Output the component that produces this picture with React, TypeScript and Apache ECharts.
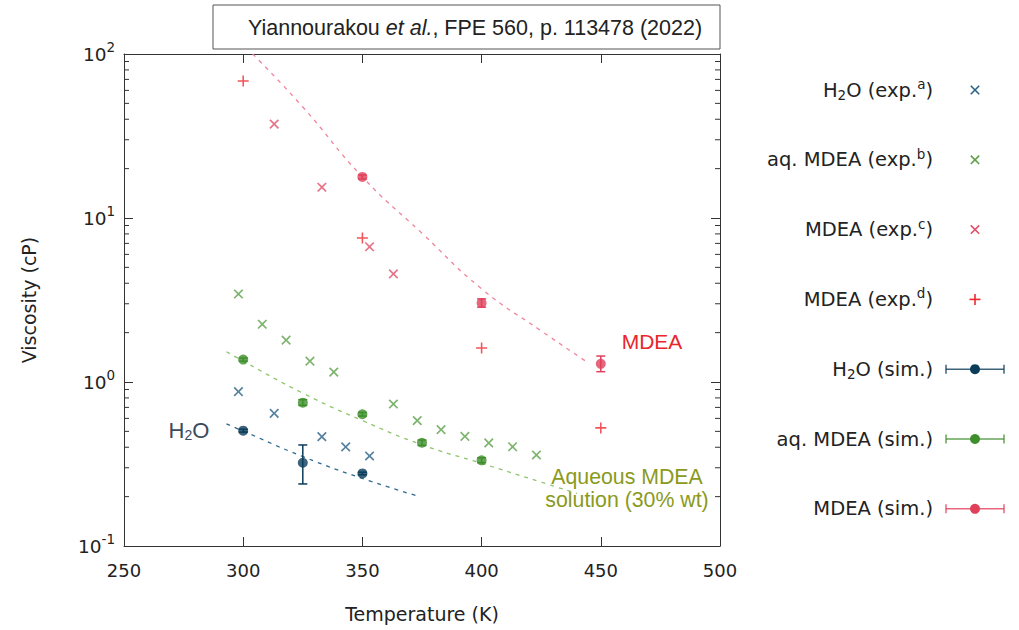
import { useEffect, useRef } from 'react';
import * as echarts from 'echarts';

// ---------- data ----------
const T_H2O_EXP = [298, 313, 333, 343, 353];
const V_H2O_EXP = [0.873, 0.644, 0.464, 0.402, 0.354];

const T_AQ_EXP = [298, 308, 318, 328, 338, 363, 373, 383, 393, 403, 413, 423];
const V_AQ_EXP = [3.44, 2.25, 1.8, 1.34, 1.15, 0.734, 0.582, 0.512, 0.466, 0.425, 0.403, 0.359];

const T_MDEA_EXP_C = [313, 333, 353, 363];
const V_MDEA_EXP_C = [37.4, 15.4, 6.68, 4.56];

const T_MDEA_EXP_D = [300, 350, 400, 450];
const V_MDEA_EXP_D = [68.4, 7.55, 1.61, 0.525];

const T_H2O_SIM = [300, 325, 350];
const V_H2O_SIM = [0.505, 0.322, 0.277];
const LO_H2O_SIM = [0.495, 0.239, 0.272];
const HI_H2O_SIM = [0.515, 0.413, 0.282];

const T_AQ_SIM = [300, 325, 350, 375, 400];
const V_AQ_SIM = [1.37, 0.748, 0.636, 0.426, 0.333];
const LO_AQ_SIM = [1.34, 0.72, 0.62, 0.41, 0.322];
const HI_AQ_SIM = [1.4, 0.78, 0.652, 0.443, 0.345];

const T_MDEA_SIM = [350, 400, 450];
const V_MDEA_SIM = [17.8, 3.03, 1.29];
const LO_MDEA_SIM = [17.3, 2.86, 1.156];
const HI_MDEA_SIM = [18.3, 3.21, 1.44];

const T_FIT_H2O = [293, 300, 325, 350, 373];
const V_FIT_H2O = [0.555, 0.502, 0.351, 0.258, 0.202];

const T_FIT_AQ = [293, 300, 325, 350, 375, 400, 425, 440];
const V_FIT_AQ = [1.53, 1.34, 0.855, 0.582, 0.414, 0.319, 0.245, 0.209];

const T_FIT_MDEA = [304, 325, 350, 375, 400, 425, 444];
const V_FIT_MDEA = [100, 47.5, 17.8, 8.07, 3.7, 2.05, 1.33];

const X_TICKS = [250, 300, 350, 400, 450, 500];
const Y_MINOR = [0.1, 1, 10].flatMap((d) => [2, 3, 4, 5, 6, 7, 8, 9].map((k) => +(k * d).toPrecision(3)));

const LEGEND_LABELS = [
  'H{sub|2}O (exp.{sup|a})',
  'aq. MDEA (exp.{sup|b})',
  'MDEA (exp.{sup|c})',
  'MDEA (exp.{sup|d})',
  'H{sub|2}O (sim.)',
  'aq. MDEA (sim.)',
  'MDEA (sim.)',
];

// ---------- styles ----------
const C = {
  h2oExp: '#2a6286',
  aqExp: '#5ea04a',
  mdeaExpC: '#e0506a',
  mdeaExpD: '#f0282e',
  h2oSim: '#0b3c5a',
  aqSim: '#3f8e2c',
  mdeaSim: '#e0405a',
  h2oFit: '#2f6a8e',
  aqFit: '#8dc46c',
  mdeaFit: '#f0849a',
};
const LEGEND_KIND = ['x', 'x', 'x', '+', 'sim', 'sim', 'sim'];
const LEGEND_COLOR = [C.h2oExp, C.aqExp, C.mdeaExpC, C.mdeaExpD, C.h2oSim, C.aqSim, C.mdeaSim];

const SANS = 'DejaVu Sans';
const ARIAL = 'Liberation Sans';
const PLUS = 'path://M43,0H57V43H100V57H57V100H43V57H0V43H43Z';

const zip = (a: number[], b: number[]) => a.map((v, i) => [v, b[i]]);
const zip3 = (a: number[], b: number[], c: number[]) => a.map((v, i) => [v, b[i], c[i]]);

function fitSeries(t: number[], v: number[], color: string) {
  return {
    type: 'line',
    data: zip(t, v),
    smooth: true,
    showSymbol: false,
    symbol: 'none',
    silent: true,
    z: 1,
    lineStyle: { color, width: 1.3, type: [4, 5] },
  };
}

function expSeries(t: number[], v: number[], color: string, cross: boolean) {
  return {
    type: 'scatter',
    data: zip(t, v),
    symbol: PLUS,
    symbolSize: cross ? 12 : 11,
    symbolRotate: cross ? 45 : 0,
    itemStyle: { color },
    z: 3,
  };
}

function errSeries(t: number[], lo: number[], hi: number[], color: string) {
  return {
    type: 'custom',
    data: zip3(t, lo, hi),
    encode: { x: 0, y: [1, 2] },
    silent: true,
    z: 4,
    renderItem: (_p: any, api: any) => {
      const x = api.value(0);
      const a = api.coord([x, api.value(1)]);
      const b = api.coord([x, api.value(2)]);
      const w = 4.5;
      const st = { stroke: color, lineWidth: 1.5 };
      return {
        type: 'group',
        children: [
          { type: 'line', shape: { x1: a[0], y1: a[1], x2: b[0], y2: b[1] }, style: st },
          { type: 'line', shape: { x1: a[0] - w, y1: a[1], x2: a[0] + w, y2: a[1] }, style: st },
          { type: 'line', shape: { x1: b[0] - w, y1: b[1], x2: b[0] + w, y2: b[1] }, style: st },
        ],
      };
    },
  };
}

function simSeries(t: number[], v: number[], color: string) {
  return {
    type: 'scatter',
    data: zip(t, v),
    symbol: 'circle',
    symbolSize: 10,
    itemStyle: { color },
    z: 5,
  };
}

function legendGraphics() {
  const out: any[] = [];
  const textRight = 933;
  const symX = 975;
  LEGEND_LABELS.forEach((lab, i) => {
    const y = 90 + i * 69.8;
    const color = LEGEND_COLOR[i];
    out.push({
      type: 'text',
      x: textRight,
      y,
      style: {
        text: lab,
        align: 'right',
        verticalAlign: 'middle',
        fontFamily: SANS,
        fontSize: 19.5,
        fill: '#222',
        rich: {
          sup: { fontFamily: SANS, fontSize: 13.5, fill: '#222', padding: [0, 0, 12, 0] },
          sub: { fontFamily: SANS, fontSize: 13.5, fill: '#222', padding: [10, 0, 0, 0] },
        },
      },
    });
    const kind = LEGEND_KIND[i];
    if (kind === 'x') {
      const r = 4.2;
      out.push({ type: 'line', shape: { x1: symX - r, y1: y - r, x2: symX + r, y2: y + r }, style: { stroke: color, lineWidth: 1.6 } });
      out.push({ type: 'line', shape: { x1: symX - r, y1: y + r, x2: symX + r, y2: y - r }, style: { stroke: color, lineWidth: 1.6 } });
    } else if (kind === '+') {
      const r = 5.5;
      out.push({ type: 'line', shape: { x1: symX - r, y1: y, x2: symX + r, y2: y }, style: { stroke: color, lineWidth: 1.6 } });
      out.push({ type: 'line', shape: { x1: symX, y1: y - r, x2: symX, y2: y + r }, style: { stroke: color, lineWidth: 1.6 } });
    } else {
      const st = { stroke: color, lineWidth: 1.5, opacity: 0.8 };
      out.push({ type: 'line', shape: { x1: 946, y1: y, x2: 1004, y2: y }, style: st });
      out.push({ type: 'line', shape: { x1: 946, y1: y - 4.5, x2: 946, y2: y + 4.5 }, style: st });
      out.push({ type: 'line', shape: { x1: 1004, y1: y - 4.5, x2: 1004, y2: y + 4.5 }, style: st });
      out.push({ type: 'circle', shape: { cx: symX, cy: y, r: 5 }, style: { fill: color } });
    }
  });
  return out;
}

const axisLine = { show: true, onZero: false, lineStyle: { color: '#333', width: 1 } };

const option: any = {
  animation: false,
  backgroundColor: '#fff',
  grid: { left: 124, right: 299, top: 54, bottom: 84 },
  xAxis: [
    {
      type: 'value',
      min: X_TICKS[0],
      max: X_TICKS[X_TICKS.length - 1],
      interval: 50,
      position: 'bottom',
      axisLine,
      axisTick: { inside: true, length: 9, lineStyle: { color: '#333' } },
      axisLabel: { fontFamily: SANS, fontSize: 18, color: '#222', margin: 15 },
      splitLine: { show: false },
      name: 'Temperature (K)',
      nameLocation: 'middle',
      nameGap: 58,
      nameTextStyle: { fontFamily: SANS, fontSize: 19, color: '#222' },
    },
    {
      type: 'value',
      min: X_TICKS[0],
      max: X_TICKS[X_TICKS.length - 1],
      interval: 50,
      position: 'top',
      axisLine,
      axisTick: { inside: true, length: 9, lineStyle: { color: '#333' } },
      axisLabel: { show: false },
      splitLine: { show: false },
    },
  ],
  yAxis: [
    {
      type: 'log',
      logBase: 10,
      min: 0.1,
      max: 100,
      position: 'left',
      axisLine,
      axisTick: { inside: true, length: 9, lineStyle: { color: '#333' } },
      axisLabel: {
        margin: 9,
        formatter: (v: number) => `{b|10}{s|${Math.round(Math.log10(v))}}`,
        rich: {
          b: { fontFamily: SANS, fontSize: 18.5, color: '#222' },
          s: { fontFamily: SANS, fontSize: 13.5, color: '#222', padding: [0, 0, 14, 0] },
        },
      },
      splitLine: { show: false },
      name: 'Viscosity (cP)',
      nameLocation: 'middle',
      nameGap: 86,
      nameRotate: 90,
      nameTextStyle: { fontFamily: SANS, fontSize: 19, color: '#222' },
    },
    {
      type: 'log',
      logBase: 10,
      min: 0.1,
      max: 100,
      position: 'right',
      axisLine,
      axisTick: { inside: true, length: 9, lineStyle: { color: '#333' } },
      axisLabel: { show: false },
      splitLine: { show: false },
    },
  ],
  series: [
    {
      type: 'custom',
      data: Y_MINOR.map((v) => [X_TICKS[0], v]),
      silent: true,
      z: 0,
      renderItem: (p: any, api: any) => {
        const y = api.coord([X_TICKS[0], api.value(1)])[1];
        const cs = p.coordSys;
        const st = { stroke: '#333', lineWidth: 1 };
        return {
          type: 'group',
          children: [
            { type: 'line', shape: { x1: cs.x, y1: y, x2: cs.x + 5, y2: y }, style: st },
            { type: 'line', shape: { x1: cs.x + cs.width - 5, y1: y, x2: cs.x + cs.width, y2: y }, style: st },
          ],
        };
      },
    },
    fitSeries(T_FIT_H2O, V_FIT_H2O, C.h2oFit),
    fitSeries(T_FIT_AQ, V_FIT_AQ, C.aqFit),
    fitSeries(T_FIT_MDEA, V_FIT_MDEA, C.mdeaFit),
    expSeries(T_H2O_EXP, V_H2O_EXP, C.h2oExp, true),
    expSeries(T_AQ_EXP, V_AQ_EXP, C.aqExp, true),
    expSeries(T_MDEA_EXP_C, V_MDEA_EXP_C, C.mdeaExpC, true),
    expSeries(T_MDEA_EXP_D, V_MDEA_EXP_D, C.mdeaExpD, false),
    errSeries(T_H2O_SIM, LO_H2O_SIM, HI_H2O_SIM, C.h2oSim),
    errSeries(T_AQ_SIM, LO_AQ_SIM, HI_AQ_SIM, C.aqSim),
    errSeries(T_MDEA_SIM, LO_MDEA_SIM, HI_MDEA_SIM, C.mdeaSim),
    simSeries(T_H2O_SIM, V_H2O_SIM, C.h2oSim),
    simSeries(T_AQ_SIM, V_AQ_SIM, C.aqSim),
    simSeries(T_MDEA_SIM, V_MDEA_SIM, C.mdeaSim),
  ],
  graphic: [
    {
      type: 'rect',
      shape: { x: 213, y: 5, width: 507, height: 44 },
      style: { fill: '#fff', stroke: '#555', lineWidth: 1 },
      z: 10,
    },
    {
      type: 'text',
      x: 475,
      y: 28,
      z: 11,
      style: {
        text: 'Yiannourakou {i|et al.}, FPE 560, p. 113478 (2022)',
        align: 'center',
        verticalAlign: 'middle',
        fontFamily: ARIAL,
        fontSize: 21.5,
        fill: '#222',
        rich: { i: { fontFamily: ARIAL, fontSize: 21.5, fontStyle: 'italic', fill: '#222' } },
      },
    },
    {
      type: 'text',
      x: 189,
      y: 430,
      style: {
        text: 'H{s|2}O',
        align: 'center',
        verticalAlign: 'middle',
        fontFamily: ARIAL,
        fontSize: 22,
        fill: '#3b4a5c',
        rich: { s: { fontFamily: ARIAL, fontSize: 14, fill: '#3b4a5c', padding: [10, 0, 0, 0] } },
      },
    },
    {
      type: 'text',
      x: 652,
      y: 341,
      style: {
        text: 'MDEA',
        align: 'center',
        verticalAlign: 'middle',
        fontFamily: ARIAL,
        fontSize: 21,
        fill: '#e8262c',
      },
    },
    {
      type: 'text',
      x: 627,
      y: 488,
      style: {
        text: 'Aqueous MDEA\nsolution (30% wt)',
        align: 'center',
        verticalAlign: 'middle',
        fontFamily: ARIAL,
        fontSize: 21.3,
        lineHeight: 23,
        fill: '#8a9a1c',
      },
    },
    ...legendGraphics(),
  ],
};

export default function App() {
  const ref = useRef<HTMLDivElement>(null);
  useEffect(() => {
    const chart = echarts.init(ref.current as HTMLDivElement, null, { renderer: 'svg' });
    chart.setOption(option);
    return () => chart.dispose();
  }, []);
  return <div ref={ref} style={{ position: 'fixed', left: 0, top: 0, width: 1019, height: 630 }} />;
}
